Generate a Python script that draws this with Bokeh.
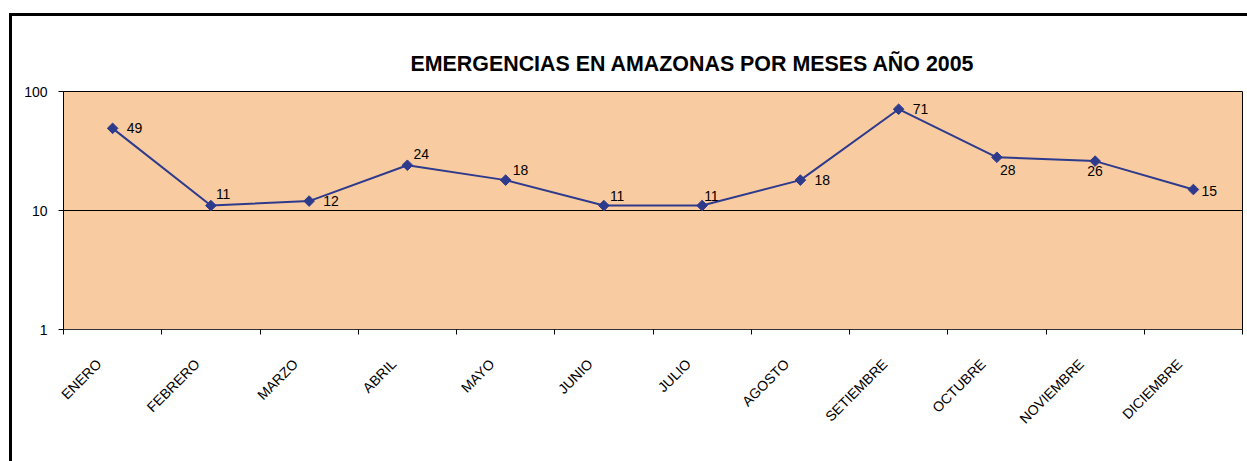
import math
from bokeh.plotting import figure
from bokeh.models import Range1d, FixedTicker, ColumnDataSource
from bokeh.embed import file_html
from bokeh.resources import INLINE
from bokeh.core.properties import value

# ---- data ----
months = ["ENERO", "FEBRERO", "MARZO", "ABRIL", "MAYO", "JUNIO", "JULIO",
          "AGOSTO", "SETIEMBRE", "OCTUBRE", "NOVIEMBRE", "DICIEMBRE"]
emergencias = [49, 11, 12, 24, 18, 11, 11, 18, 71, 28, 26, 15]
y_ticks = [1, 10, 100]
title_text = "EMERGENCIAS EN AMAZONAS POR MESES AÑO 2005"

# ---- label placement (style, screen pixels) ----
label_dx = [14, 5, 14, 6, 7, 6, 2, 14, 14, 3, -8, 8]
label_dy = [0, -12, 0, -11, -10, -10, -10, 0, 0, 13, 10, 1]
month_label_shift = 0.14   # category labels sit slightly left of centre

FONT = "Liberation Sans"
LINE_COLOR = "#2E3A8C"

xs = [i + 0.5 for i in range(len(months))]
label_ticks = [x - month_label_shift for x in xs]
src = ColumnDataSource(dict(
    x=xs, y=emergencias, txt=[str(v) for v in emergencias],
    dx=label_dx, dy=label_dy,
))

p = figure(width=1247, height=461, y_axis_type="log",
           x_range=Range1d(0, len(months)), y_range=Range1d(1, 100),
           output_backend="svg", toolbar_location=None,
           min_border_left=63, min_border_right=5,
           min_border_top=91, min_border_bottom=132)
p.border_fill_alpha = 0
p.styles = {"box-shadow": "inset 9px 13px 0 0 #fff, inset 12px 16px 0 0 #000"}

p.title.text = title_text
p.title.text_font = FONT
p.title.text_font_style = "bold"
p.title.text_font_size = "21.4px"
p.title.text_color = "black"
p.title.align = "left"
p.title.offset = 347
p.title.standoff = 32

p.background_fill_color = "#F8CBA1"
p.outline_line_color = "black"
p.outline_line_width = 1

# y axis
p.yaxis.ticker = FixedTicker(ticks=y_ticks, minor_ticks=[])
p.yaxis.major_label_overrides = {t: str(t) for t in y_ticks}
p.yaxis.major_tick_out = 5
p.yaxis.major_tick_in = 0
p.yaxis.minor_tick_out = 0
p.yaxis.minor_tick_in = 0
p.yaxis.axis_line_color = "black"
p.yaxis.major_tick_line_color = "black"
p.yaxis.major_label_standoff = 11
p.yaxis.major_label_text_font = FONT
p.yaxis.major_label_text_font_size = "14px"
p.yaxis.major_label_text_color = "black"

# x axis
p.xaxis.ticker = FixedTicker(ticks=label_ticks,
                             minor_ticks=list(range(len(months) + 1)))
p.xaxis.major_label_overrides = {t: m for t, m in zip(label_ticks, months)}
p.xaxis.major_label_orientation = math.pi / 4
p.xaxis.major_tick_out = 0
p.xaxis.major_tick_in = 0
p.xaxis.minor_tick_out = 5
p.xaxis.minor_tick_in = 0
p.xaxis.minor_tick_line_color = "black"
p.xaxis.axis_line_color = "#333333"
p.xaxis.major_label_standoff = 27
p.xaxis.major_label_text_font = FONT
p.xaxis.major_label_text_font_size = "14px"
p.xaxis.major_label_text_color = "black"

p.xgrid.visible = False
p.ygrid.grid_line_color = "black"
p.ygrid.grid_line_width = 1

p.line("x", "y", source=src, line_color=LINE_COLOR, line_width=2)
p.scatter("x", "y", source=src, marker="square", angle=math.pi / 4, size=7.5,
          fill_color=LINE_COLOR, line_color=LINE_COLOR)
p.text("x", "y", text="txt", source=src, x_offset="dx", y_offset="dy",
       text_align="left", text_baseline="middle",
       text_font=value(FONT), text_font_size="14px", text_color="black")

open("out.html", "w").write(file_html(p, INLINE))
